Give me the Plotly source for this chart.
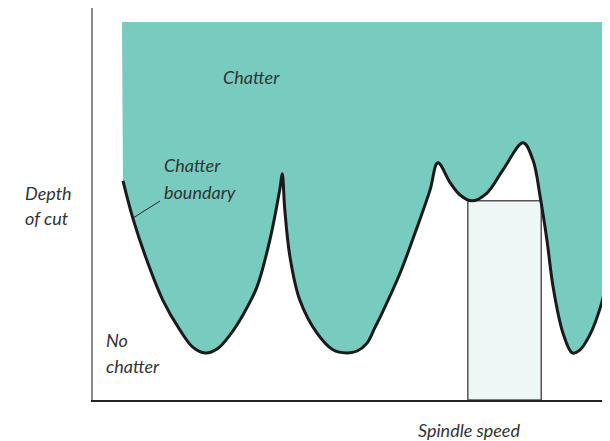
import plotly.graph_objects as go

# ---- data (spindle speed / depth of cut, arbitrary units 0-100) ----
speed = [5.8, 7.7, 10.4, 13.5, 16.8, 19.3, 21.7, 24.0, 26.5, 29.0, 31.7, 34.2, 36.2, 36.6,
         37.1, 38.1, 40.0, 43.3, 46.4, 49.1, 51.1, 53.0, 54.5, 56.1, 59.4, 62.7, 65.2, 66.7,
         69.1, 71.0, 73.3, 76.2, 79.3, 83.2, 85.1, 86.5, 87.8, 89.0, 90.9, 92.7,
         94.2, 96.1, 98.1, 100.0]
depth = [55.9, 46.4, 35.7, 25.5, 17.9, 13.5, 12.0, 13.0, 16.6, 21.7, 28.8, 40.8, 54.3, 57.7,
         48.5, 36.5, 25.5, 17.1, 12.8, 12.0, 12.5, 14.5, 18.4, 22.7, 32.4, 44.1, 53.6, 60.5,
         55.4, 52.3, 50.8, 52.8, 58.7, 65.6, 61.2, 51.8, 40.8, 28.8, 17.1, 12.0,
         12.8, 16.6, 23.5, 33.7]
top_speed = [5.6, 100.0]
top_depth = [96.4, 96.4]
band_speed = [72.5, 86.7]
band_depth = 50.8

OFF = 8  # page body margin of the browser
W, H = 610 - OFF, 441 - OFF
ML, MR, MT, MB = 93 - OFF, 0, 8 - OFF, 41
PW, PH = W - ML - MR, H - MT - MB

def P(px, py):
    """reference-screenshot pixel -> paper coords"""
    fx, fy = px - OFF, py - OFF
    return (fx - ML) / PW, (H - MB - fy) / PH

TEAL = "#77cbbf"
TXT = "#333333"
FONT = "Lato"

fig = go.Figure()
fig.add_trace(go.Scatter(x=top_speed, y=top_depth, mode="lines",
                         line=dict(width=0, color=TEAL), hoverinfo="skip"))
fig.add_trace(go.Scatter(x=speed, y=depth, mode="lines", fill="tonexty",
                         fillcolor=TEAL, line=dict(width=0, color=TEAL, shape="spline"),
                         hoverinfo="skip"))
# stable spindle-speed band
fig.add_trace(go.Scatter(x=[band_speed[0], band_speed[1], band_speed[1], band_speed[0], band_speed[0]],
                         y=[0, 0, band_depth, band_depth, 0], mode="lines", fill="toself",
                         fillcolor="#eef7f5", line=dict(width=1.5, color="#555555"),
                         hoverinfo="skip"))
fig.add_trace(go.Scatter(x=speed, y=depth, mode="lines",
                         line=dict(width=3, color="#1a1a1a", shape="spline"),
                         hoverinfo="skip"))

def txt(s, px, py, xa="center"):
    x, y = P(px, py)
    fig.add_annotation(x=x, y=y, xref="paper", yref="paper", text=s, showarrow=False,
                       xanchor=xa, yanchor="middle",
                       font=dict(family=FONT, size=18, color=TXT, style="italic"))

txt("Chatter", 251, 77)
txt("Chatter", 162, 165, "left")
txt("boundary", 162, 192, "left")
txt("Depth", 23, 193, "left")
txt("of cut", 23, 218, "left")
txt("No", 104, 340, "left")
txt("chatter", 104, 366, "left")
txt("Spindle speed", 469, 430)

x0, y0 = P(133, 218)
x1, y1 = P(160, 201)
fig.add_shape(type="line", xref="paper", yref="paper", x0=x0, y0=y0, x1=x1, y1=y1,
              line=dict(color="#222222", width=1))

fig.update_layout(
    width=W, height=H, margin=dict(l=ML, r=MR, t=MT, b=MB),
    paper_bgcolor="white", plot_bgcolor="white", showlegend=False,
    xaxis=dict(range=[0, 100], showgrid=False, zeroline=False, showticklabels=False,
               ticks="", showline=True, linecolor="#222222", linewidth=2, fixedrange=True),
    yaxis=dict(range=[0, 100], showgrid=False, zeroline=False, showticklabels=False,
               ticks="", showline=True, linecolor="#8a8a8a", linewidth=1.5, fixedrange=True),
)
fig.write_html("out.html", config={"displayModeBar": False})
